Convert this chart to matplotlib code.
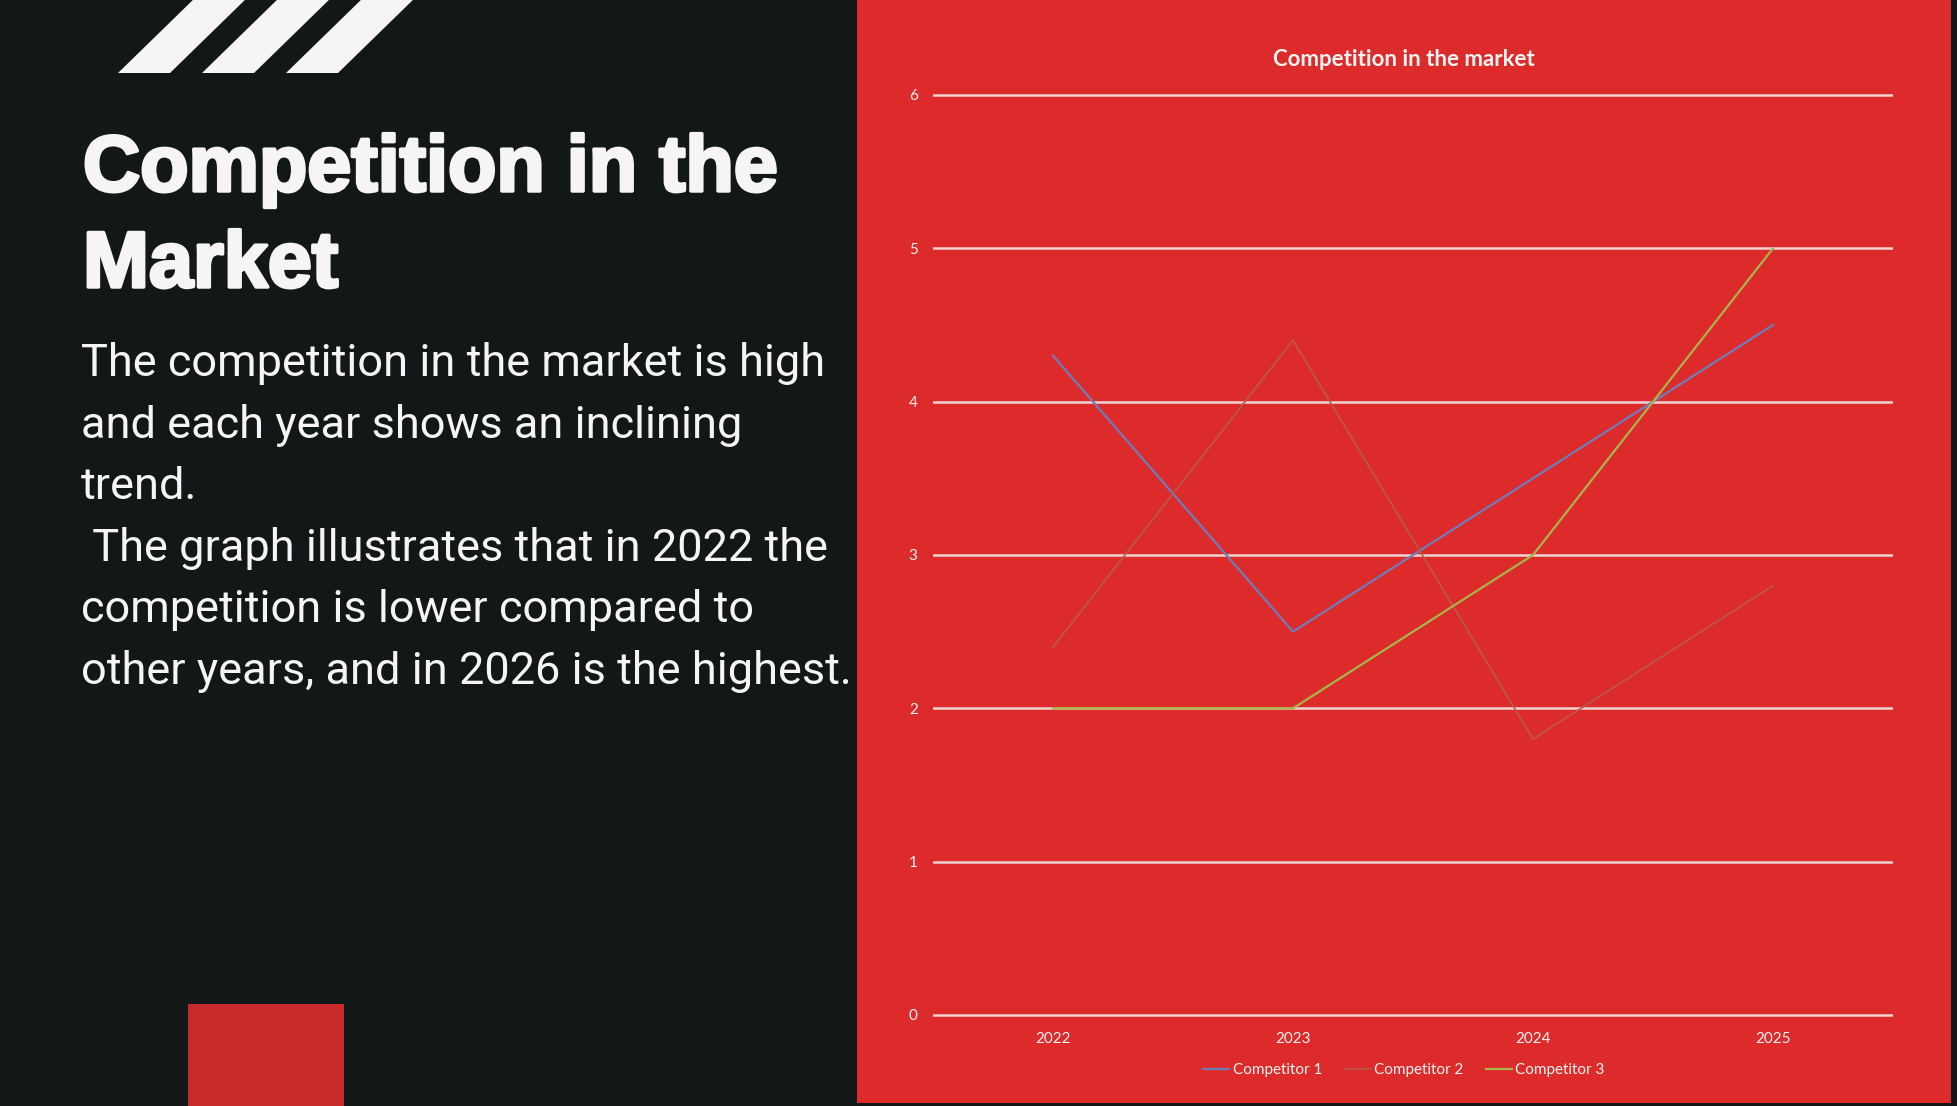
import matplotlib
matplotlib.use("Agg")
import matplotlib.pyplot as plt
import matplotlib.patheffects as pe
from matplotlib.patches import Polygon, Rectangle

W, H = 1957, 1106

years = ["2022", "2023", "2024", "2025"]
competitor_1 = [4.3, 2.5, 3.5, 4.5]
competitor_2 = [2.4, 4.4, 1.8, 2.8]
competitor_3 = [2.0, 2.0, 3.0, 5.0]
series_names = ["Competitor 1", "Competitor 2", "Competitor 3"]
y_ticks = [0, 1, 2, 3, 4, 5, 6]

heading_lines = ["Competition in the", "Market"]
body_lines = [
    "The competition in the market is high",
    "and each year shows an inclining",
    "trend.",
    " The graph illustrates that in 2022 the",
    "competition is lower compared to",
    "other years, and in 2026 is the highest.",
]

DARK = "#121718"
RED = "#DD2B2C"
SQUARE = "#C8292A"
WHITE = "#F6F5F3"


def fx(px):
    return px / W


def fy(py):
    # pixel rows go down, figure coords go up
    return 1 - py / H


fig = plt.figure(figsize=(W / 100, H / 100), dpi=100)
fig.patch.set_facecolor(DARK)

# red panel behind the chart
fig.patches.append(Rectangle((fx(857), fy(1103)), fx(1951) - fx(857), 1.01 - fy(1103),
                             transform=fig.transFigure, facecolor=RED, edgecolor="none", zorder=-2))

# red square bottom left
fig.patches.append(Rectangle((fx(188), fy(1110)), fx(344) - fx(188), fy(1004) - fy(1110),
                             transform=fig.transFigure, facecolor=SQUARE, edgecolor="none", zorder=-2))

# three slanted stripes at the top
for dx in [0, 84, 168]:
    pts = [(118 + dx, 73), (170 + dx, 73), (250 + dx, -5), (198 + dx, -5)]
    fig.patches.append(Polygon([(fx(a), fy(b)) for a, b in pts], closed=True, zorder=-2,
                               transform=fig.transFigure, facecolor=WHITE, edgecolor="none"))

# left side text, stroked a bit to look heavier
for i, line in enumerate(heading_lines):
    t = fig.text(fx(83), fy(191 + i * 96), line, color=WHITE, fontsize=57, fontweight="bold",
                 family=["Liberation Sans", "DejaVu Sans"], va="baseline", ha="left")
    t.set_path_effects([pe.withStroke(linewidth=2.5, foreground=WHITE)])

for i, line in enumerate(body_lines):
    fig.text(fx(81), fy(376 + i * 61.6), line, color=WHITE, fontsize=32.5,
             family=["Roboto", "DejaVu Sans"], va="baseline", ha="left")

# chart
unit = (1015 - 95) / 6.0
top = 95 - 0.05 * unit
bottom = 1015 + 0.05 * unit
ax = fig.add_axes([fx(933), fy(bottom), fx(1893) - fx(933), fy(top) - fy(bottom)])
ax.set_facecolor("none")
ax.set_zorder(2)

x = range(len(years))
ax.plot(x, competitor_1, color="#6E7DB8", lw=1.6, label=series_names[0], zorder=3)
ax.plot(x, competitor_2, color="#BA584E", lw=1.2, label=series_names[1], zorder=3)
ax.plot(x, competitor_3, color="#A9B446", lw=1.6, label=series_names[2], zorder=3)

ax.set_xlim(-0.5, len(years) - 0.5)
ax.set_ylim(-0.05, 6.05)
ax.set_xticks(list(x))
ax.set_xticklabels(years)
ax.set_yticks(y_ticks)
ax.grid(axis="y", color="#EFD3D3", lw=1.8)
ax.set_axisbelow(True)
for s in ax.spines.values():
    s.set_visible(False)
ax.tick_params(axis="both", length=0, colors=WHITE, labelsize=11)
ax.tick_params(axis="y", pad=11)
ax.tick_params(axis="x", pad=7)
for lab in ax.get_xticklabels() + ax.get_yticklabels():
    lab.set_family(["Lato", "DejaVu Sans"])

fig.text(fx(1404), fy(60), "Competition in the market", color=WHITE, fontsize=16,
         fontweight="bold", family=["Lato", "DejaVu Sans"], ha="center", va="center")

leg = fig.legend(loc="center", bbox_to_anchor=(fx(1404), fy(1070)), ncol=3, frameon=False,
                 handlelength=1.7, handletextpad=0.2, columnspacing=1.5,
                 prop={"family": ["Lato", "DejaVu Sans"], "size": 11})
for t in leg.get_texts():
    t.set_color(WHITE)

fig.savefig("out.png", dpi=100, facecolor=DARK)
